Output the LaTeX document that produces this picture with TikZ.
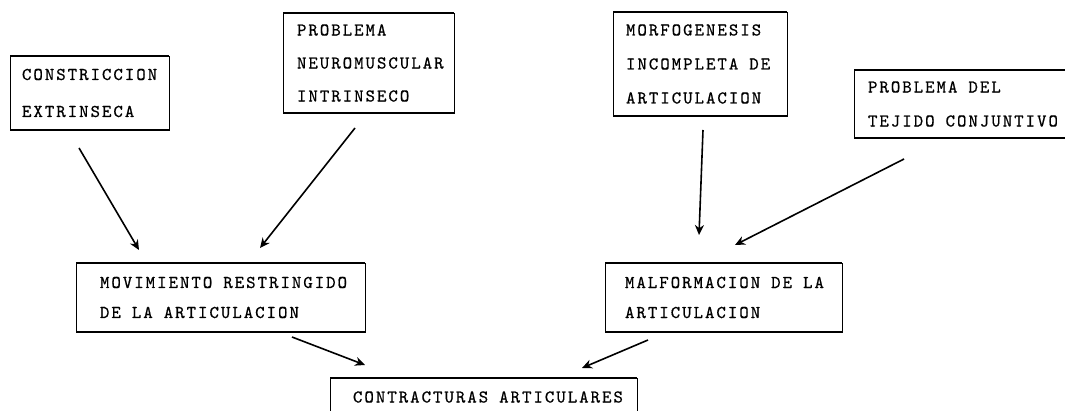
\documentclass[tikz,border=0pt]{standalone}
\usepackage{fontspec}
\newfontfamily\tw[LetterSpace=11,FakeBold=0.6]{lmmono10-regular.otf}
\usetikzlibrary{arrows.meta}
\newcommand{\boxfont}[1]{\tw\fontsize{18}{#1}\selectfont\spaceskip=11pt\relax}
\tikzset{
  box/.style={draw, line width=0.8pt, anchor=north west, align=flush left,
    inner ysep=0pt, inner xsep=0pt, outer sep=0pt},
  leftpad/.style={execute at begin node={\leftskip=#1\relax}},
  bot/.style={line width=2.2pt},
  topl/.style={line width=1.4pt},
  arr/.style={line width=1.6pt, -{Stealth[length=10pt,width=9pt]}},
}
\begin{document}
\begin{tikzpicture}[x=1pt,y=-1pt]
\fill[white] (0,0) rectangle (1065,411);
\useasboundingbox (0,0) rectangle (1065,411);

\node[box, minimum height=74pt, text width=159pt, leftpad=12pt, font=\boxfont{37pt}]
  (c1) at (10,56) {CONSTRICCION\\EXTRINSECA};
\node[box, minimum height=100pt, text width=171pt, leftpad=14pt, font=\boxfont{33pt}]
  (c2) at (283,13) {PROBLEMA\\NEUROMUSCULAR\\INTRINSECO};
\node[box, minimum height=104pt, text width=174pt, leftpad=13pt, font=\boxfont{34pt}]
  (c3) at (613,12) {MORFOGENESIS\\INCOMPLETA DE\\ARTICULACION};
\node[box, minimum height=68pt, text width=218pt, leftpad=14pt, font=\boxfont{34pt}]
  (c4) at (854,70) {PROBLEMA DEL\\TEJIDO CONJUNTIVO};
\node[box, minimum height=69pt, text width=289pt, leftpad=24pt, font=\boxfont{30pt}]
  (m1) at (76,263) {MOVIMIENTO RESTRINGIDO\\DE LA ARTICULACION};
\node[box, minimum height=69pt, text width=237pt, leftpad=20pt, font=\boxfont{30pt}]
  (m2) at (605,263) {MALFORMACION DE LA\\ARTICULACION};
\node[box, minimum height=38pt, text width=307pt, leftpad=23pt, font=\boxfont{30pt}]
  (r) at (330,378) {CONTRACTURAS ARTICULARES};

\foreach \n in {c1,c2,c3,c4,m1,m2,r}{
  \draw[bot] (\n.south west) -- (\n.south east);
  \draw[topl] (\n.north west) -- (\n.north east);
}

\draw[arr] ([shift={(69,18)}]c1.south west) -- ([shift={(63,-13)}]m1.north west);
\draw[arr] ([shift={(72,15)}]c2.south west) -- ([shift={(184,-15)}]m1.north west);
\draw[arr] ([shift={(90,14)}]c3.south west) -- ([shift={(94,-28)}]m2.north west);
\draw[arr] ([shift={(50,21)}]c4.south west) -- ([shift={(130,-18)}]m2.north west);
\draw[arr] ([shift={(216,5)}]m1.south west) -- ([shift={(35,-13)}]r.north west);
\draw[arr] ([shift={(43,8)}]m2.south west) -- ([shift={(252,-10)}]r.north west);
\end{tikzpicture}
\end{document}
